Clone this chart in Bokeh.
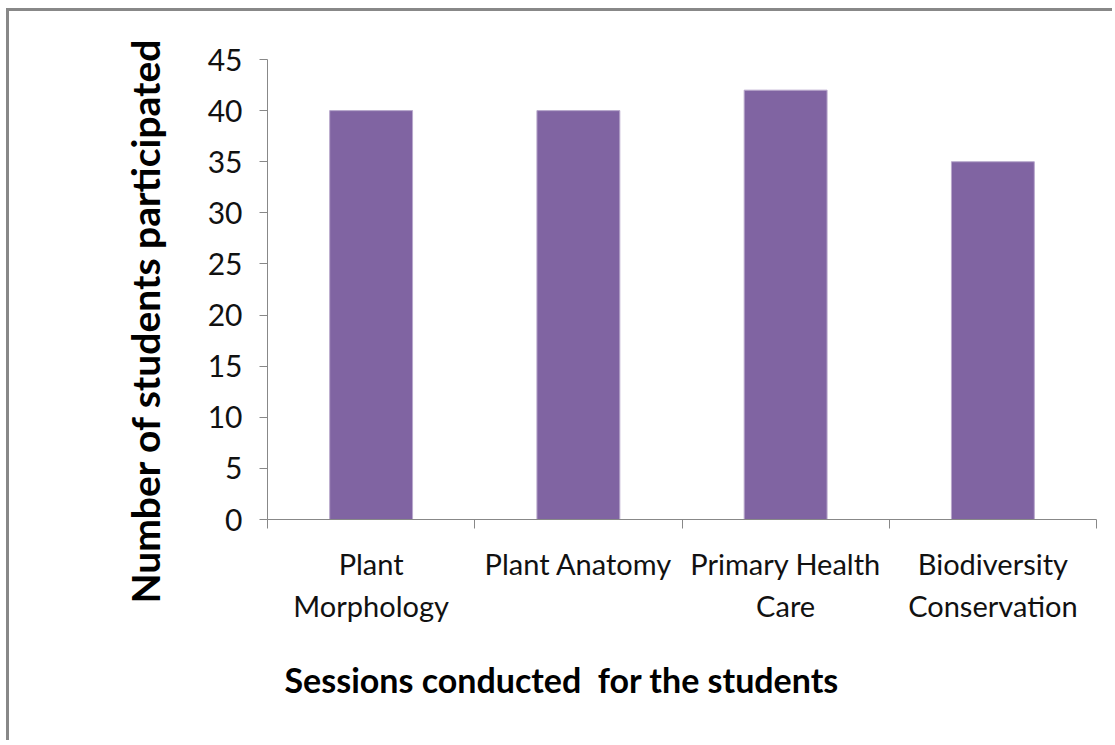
from bokeh.plotting import figure
from bokeh.models import Range1d, FixedTicker, Title
from bokeh.embed import file_html
from bokeh.resources import INLINE

sessions = ["Plant\nMorphology", "Plant Anatomy", "Primary Health\nCare", "Biodiversity\nConservation"]
students = [40, 40, 42, 35]
y_ticks = [0, 5, 10, 15, 20, 25, 30, 35, 40, 45]
y_title = "Number of students participated"
x_title = "Sessions conducted\u00a0 for the students"

BAR = "#8064A2"
AXIS = "#888888"
FONT = "Lato"

n = len(sessions)
centres = [i + 0.5 for i in range(n)]
edges = [float(i) for i in range(n + 1)]

p = figure(width=1106, height=732,
           x_range=Range1d(0, n), y_range=Range1d(0, 45),
           title=None,
           output_backend="svg", toolbar_location=None,
           min_border_left=258, min_border_top=48, min_border_right=19, min_border_bottom=224)
p.styles = {"border-left": "3px solid #888888", "border-top": "3px solid #888888",
            "margin-left": "6px", "margin-top": "8px"}
p.outline_line_color = None
p.grid.visible = False
p.background_fill_color = "white"
p.border_fill_color = "white"

p.vbar(x=centres, top=students, width=0.4, fill_color=BAR, line_color="#B8A8CC", line_width=1)

# y axis
ya = p.yaxis[0]
ya.ticker = FixedTicker(ticks=y_ticks)
ya.axis_line_color = AXIS
ya.major_tick_line_color = AXIS
ya.minor_tick_line_color = None
ya.major_tick_in = 0
ya.major_tick_out = 8
ya.major_label_standoff = 17
ya.major_label_text_font = FONT
ya.major_label_text_font_size = "30px"
ya.major_label_text_color = "#111111"

# x axis: labels at category centres, ticks at category edges
xa = p.xaxis[0]
xa.ticker = FixedTicker(ticks=centres, minor_ticks=edges)
xa.major_label_overrides = {c: s for c, s in zip(centres, sessions)}
xa.axis_line_color = AXIS
xa.major_tick_line_color = None
xa.minor_tick_line_color = AXIS
xa.minor_tick_in = 0
xa.minor_tick_out = 9
xa.major_tick_out = 0
xa.major_tick_in = 0
xa.major_label_standoff = 17
xa.major_label_text_font = FONT
xa.major_label_text_font_size = "29px"
xa.major_label_text_color = "#111111"
xa.major_label_text_line_height = 1.22

yt = Title(text=y_title, align="left", offset=-84, vertical_align="top", standoff=70,
           text_font=FONT, text_font_size="39px", text_font_style="bold", text_color="black")
p.add_layout(yt, "left")

xt = Title(text=x_title, align="left", offset=17, vertical_align="top", standoff=64,
           text_font=FONT, text_font_size="34px", text_font_style="bold", text_color="black")
p.add_layout(xt, "below")

open("out.html", "w").write(file_html(p, INLINE))
